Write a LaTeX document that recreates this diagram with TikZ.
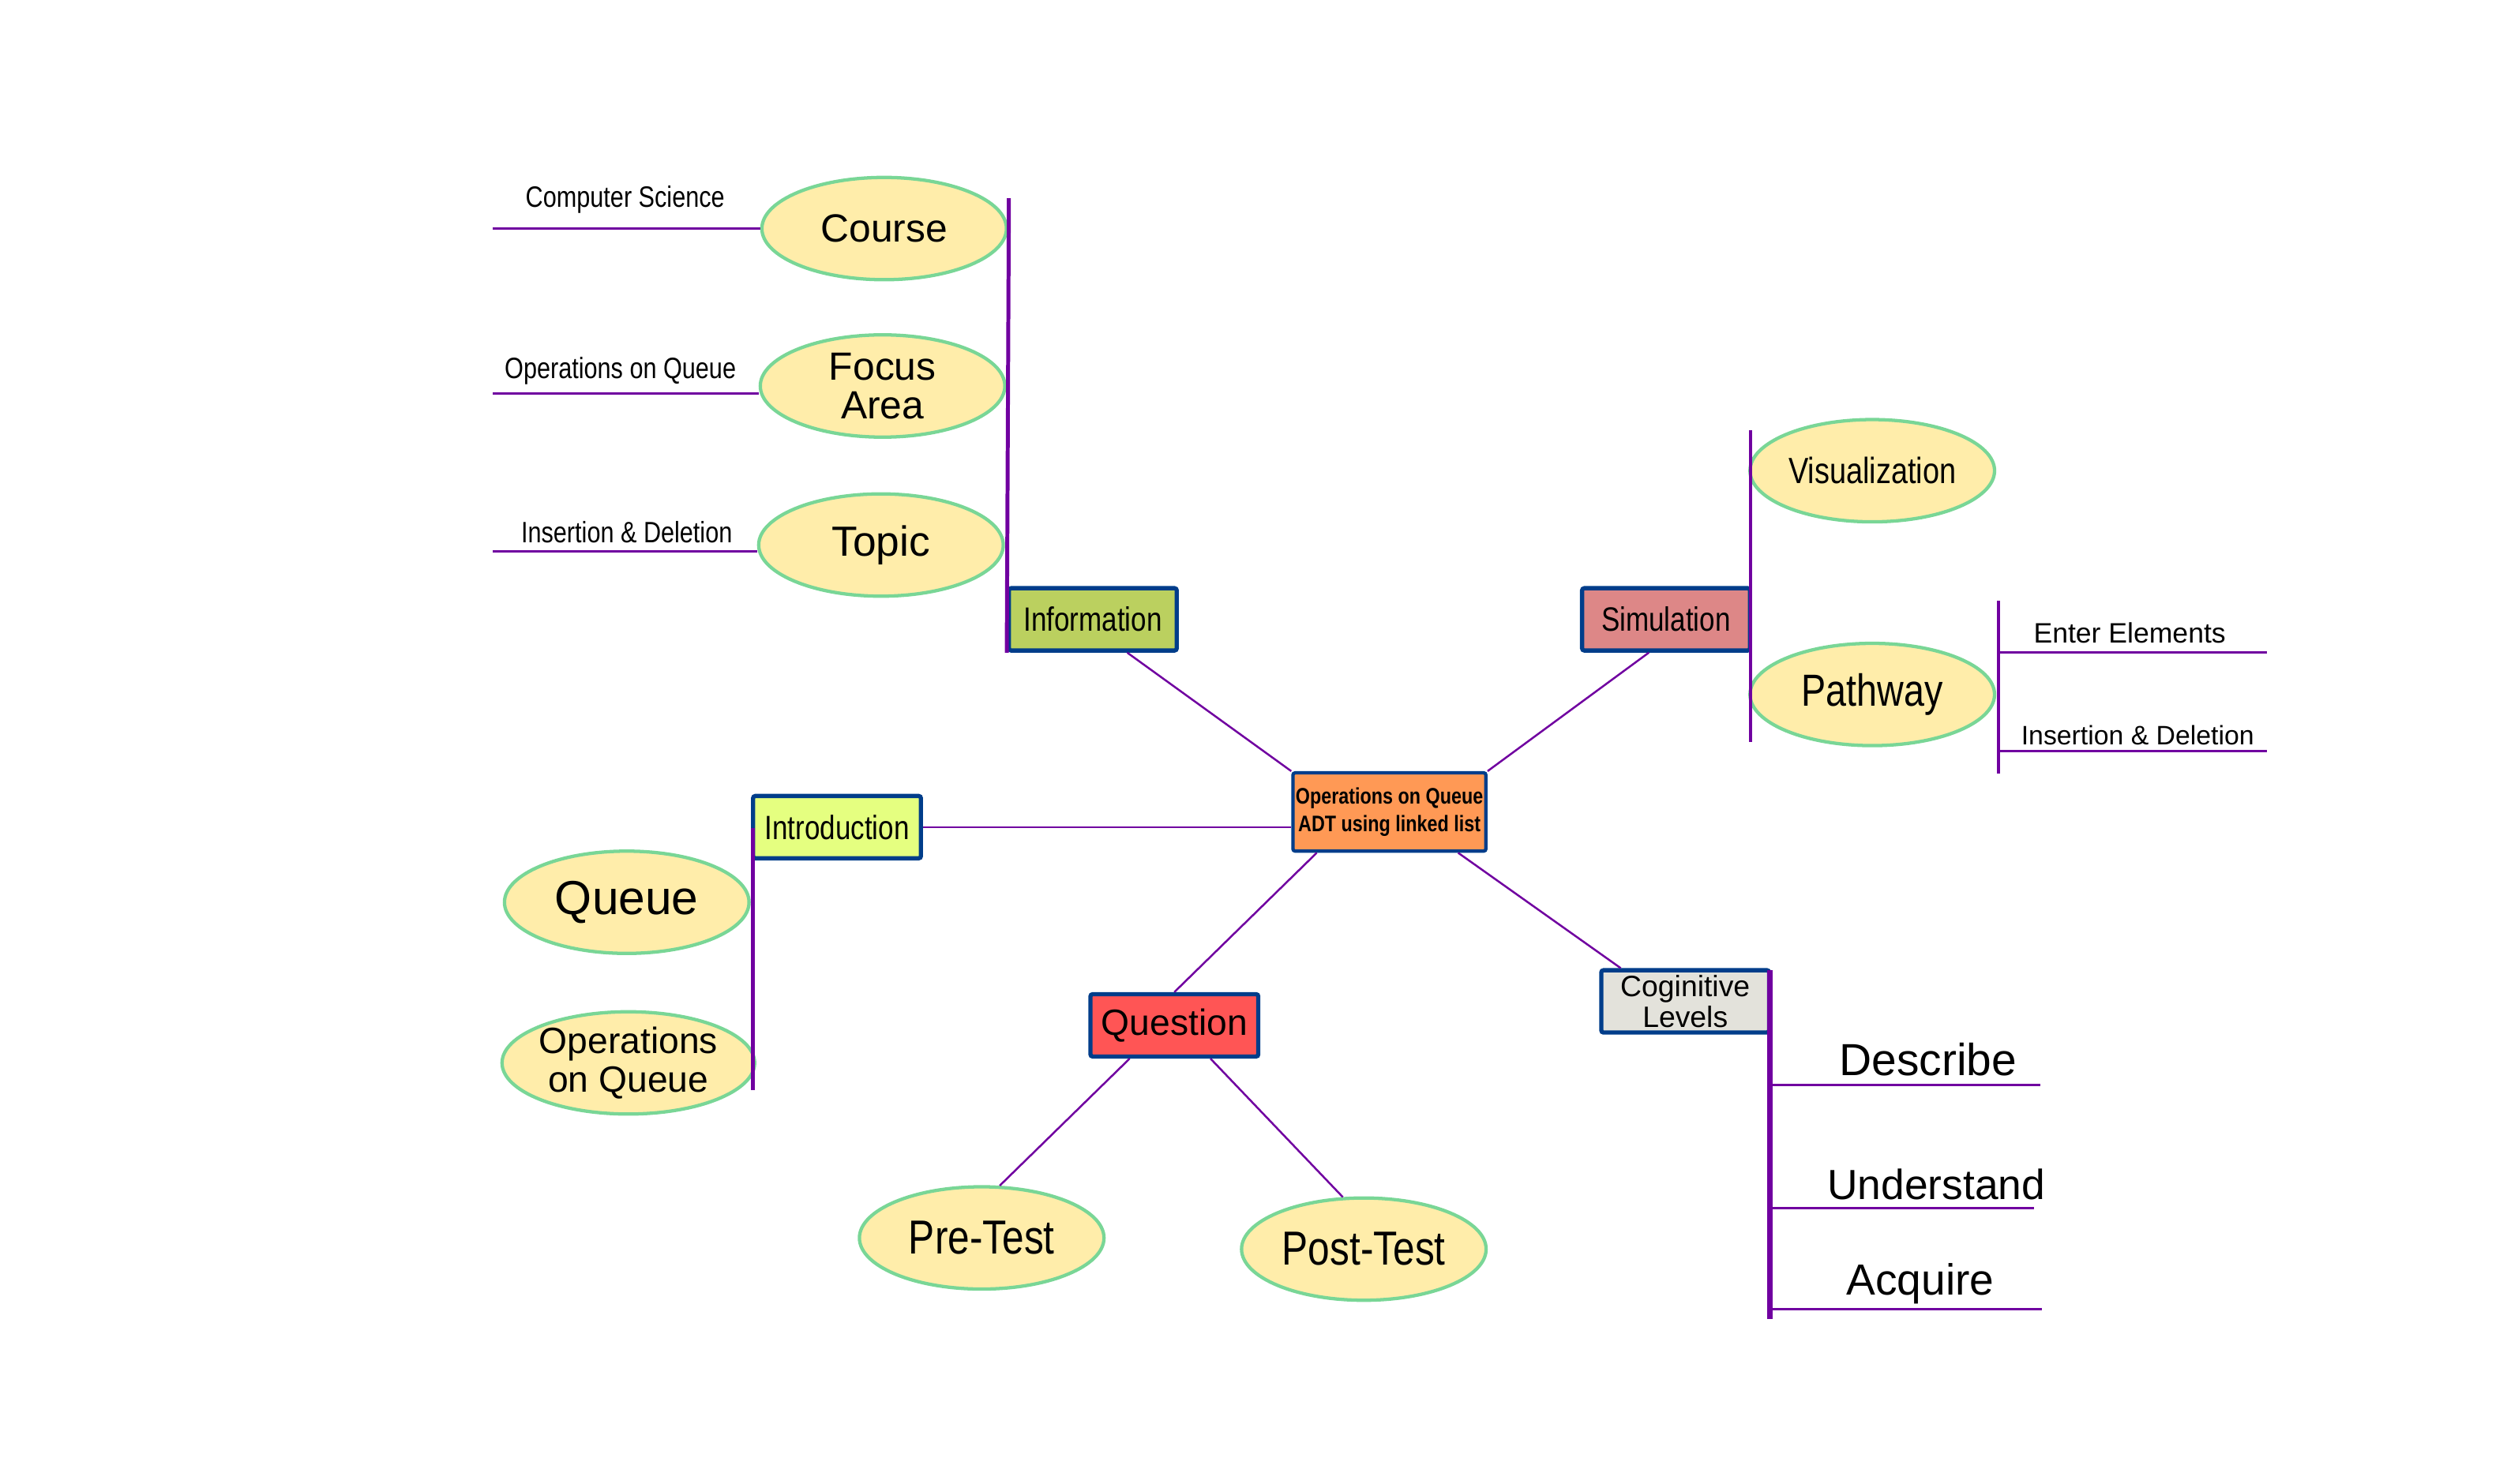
\documentclass[tikz,border=0pt]{standalone}
\usepackage{fontspec}
\setmainfont{Liberation Sans}
\newfontfamily\narrowfont[FakeStretch=0.82]{Liberation Sans}
\usepackage{tikz}
\usetikzlibrary{calc, shapes.geometric}

\definecolor{linkpurple}{RGB}{112,0,160}
\definecolor{boxblue}{RGB}{0,61,138}
\definecolor{ovalfill}{RGB}{255,237,170}
\definecolor{ovaldraw}{RGB}{121,214,150}
\definecolor{infofill}{RGB}{187,208,95}
\definecolor{simfill}{RGB}{221,135,135}
\definecolor{introfill}{RGB}{229,255,128}
\definecolor{quesfill}{RGB}{255,85,85}
\definecolor{cogfill}{RGB}{227,226,219}
\definecolor{midfill}{RGB}{255,153,85}

\begin{document}
\begin{tikzpicture}[x=0.02cm, y=-0.02cm,
  oval/.style={ellipse, draw=ovaldraw, line width=1.2pt, fill=ovalfill,
    minimum width=3.06cm, minimum height=1.28cm, inner sep=0pt, align=center},
  topic/.style={rectangle, draw=boxblue, line width=1.5pt, rounded corners=0.8pt,
    minimum width=2.1cm, minimum height=0.78cm, inner sep=1pt, align=center},
  link/.style={draw=linkpurple, line width=0.7pt},
  bar/.style={draw=linkpurple, line width=1.4pt},
  lead/.style={draw=linkpurple, line width=0.9pt},
  tag/.style={inner sep=1pt}]

\useasboundingbox (0,0) rectangle (1568,928);

% Centre
\node[topic, fill=midfill, line width=1.2pt, minimum width=2.32cm, minimum height=0.98cm,
  font=\narrowfont\bfseries\fontsize{8}{10}\selectfont] (MID) at (869,508)
  {Operations on Queue\\ADT using linked list};

% Branch boxes
\node[topic, fill=infofill, font=\narrowfont\fontsize{12}{14}\selectfont] (INF) at (683.5,387.5) {Information};
\node[topic, fill=simfill, font=\narrowfont\fontsize{12}{14}\selectfont] (SIM) at (1042,387.5) {Simulation};
\node[topic, fill=introfill, font=\narrowfont\fontsize{12}{14}\selectfont] (INT) at (523.5,517.5) {Introduction};
\node[topic, fill=quesfill, font=\fontsize{13}{15}\selectfont] (QST) at (734.5,641.5) {Question};
\node[topic, fill=cogfill, font=\fontsize{10.5}{9.6}\selectfont] (COG) at (1054,626.5) {Coginitive\\Levels};

% Information leaves
\node[oval, font=\fontsize{14}{16}\selectfont] (CRS) at (553,143) {Course};
\node[oval, font=\fontsize{14}{13.6}\selectfont] (FOC) at (552,241.5) {Focus\\Area};
\node[oval, font=\fontsize{15}{17}\selectfont] (TOP) at (551,341) {Topic};

% Simulation leaves
\node[oval, font=\narrowfont\fontsize{13}{15}\selectfont] (VIS) at (1171,294.5) {Visualization};
\node[oval, font=\narrowfont\fontsize{16}{18}\selectfont] (PTH) at (1171,434.5) {Pathway};

% Introduction leaves
\node[oval, font=\fontsize{17}{19}\selectfont] (QUE) at (392,564.5) {Queue};
\node[oval, font=\fontsize{13}{13.6}\selectfont] (OPQ) at (393,665) {Operations\\on Queue};

% Question leaves
\node[oval, font=\narrowfont\fontsize{17}{19}\selectfont] (PRE) at (614,774.5) {Pre-Test};
\node[oval, font=\narrowfont\fontsize{17}{19}\selectfont] (POST) at (853,781.5) {Post-Test};

% Links from the centre
\draw[link] (MID.north west) -- ($ (INF.south)!0.4!(INF.south east) $);
\draw[link] (MID.north east) -- ($ (SIM.south)!0.2!(SIM.south west) $);
\draw[link] (INT.east) -- (INT.east -| MID.west);
\draw[link] ($ (MID.south west)!0.13!(MID.south east) $) -- (QST.north);
\draw[link] ($ (MID.south east)!0.15!(MID.south west) $) -- ($ (COG.north west)!0.125!(COG.north east) $);
\draw[link] ($ (QST.south west)!0.24!(QST.south east) $) -- (PRE.71);
\draw[link] ($ (QST.south west)!0.71!(QST.south east) $) -- (POST.112);

% Bars
\coordinate (INFtop) at (631,124);
\coordinate (SIMtop) at (1095,269);
\coordinate (SIMbot) at (1095,464);
\coordinate (PTHtop) at (1250,376);
\coordinate (PTHbot) at (1250,484);
\coordinate (INTtop) at (471,518);
\coordinate (INTbot) at (471,682);
\coordinate (COGtop) at (1107,607);
\coordinate (COGbot) at (1107,825);

\draw[bar] (INF.south west) -- (INFtop);
\draw[bar, line width=1pt] (SIMtop) -- (SIMbot);
\draw[bar, line width=1pt] (PTHtop) -- (PTHbot);
\draw[bar] (INTtop) -- (INTbot);
\draw[bar, line width=1.8pt] (COGtop) -- (COGbot);

% Left leaders
\coordinate (CSend) at (308,143);
\coordinate (OQend) at (308,246);
\coordinate (IDend) at (308,345);
\draw[lead] (CRS.west) -- (CSend);
\draw[lead] (OQend -| FOC.west) -- (OQend);
\draw[lead] (IDend -| TOP.west) -- (IDend);
\node[tag, font=\narrowfont\fontsize{10.5}{12}\selectfont] (CSlab) at (391,125) {Computer Science};
\node[tag, font=\narrowfont\fontsize{10.5}{12}\selectfont] (OQlab) at (388,232) {Operations on Queue};
\node[tag, font=\narrowfont\fontsize{10.5}{12}\selectfont] (IDlab) at (392,333) {Insertion \& Deletion};

% Pathway leaders
\coordinate (EEend) at (1418,408);
\coordinate (IRend) at (1418,470);
\draw[lead] (EEend -| PTHtop) -- (EEend);
\draw[lead] (IRend -| PTHtop) -- (IRend);
\node[tag, font=\fontsize{10}{12}\selectfont] (EElab) at (1332,396) {Enter Elements};
\node[tag, font=\fontsize{9.5}{11}\selectfont] (IRlab) at (1337,460) {Insertion \& Deletion};

% Cognitive leaders
\coordinate (DSend) at (1276,679);
\coordinate (UNend) at (1272,756);
\coordinate (ACend) at (1277,819);
\draw[lead] (DSend -| COGbot) -- (DSend);
\draw[lead] (UNend -| COGbot) -- (UNend);
\draw[lead] (ACend -| COGbot) -- (ACend);
\node[tag, font=\fontsize{16}{18}\selectfont] (DSlab) at (1206,663) {Describe};
\node[tag, font=\fontsize{15}{17}\selectfont] (UNlab) at (1211,741) {Understand};
\node[tag, font=\fontsize{15.5}{17}\selectfont] (AClab) at (1201,803) {Acquire};

\end{tikzpicture}
\end{document}
